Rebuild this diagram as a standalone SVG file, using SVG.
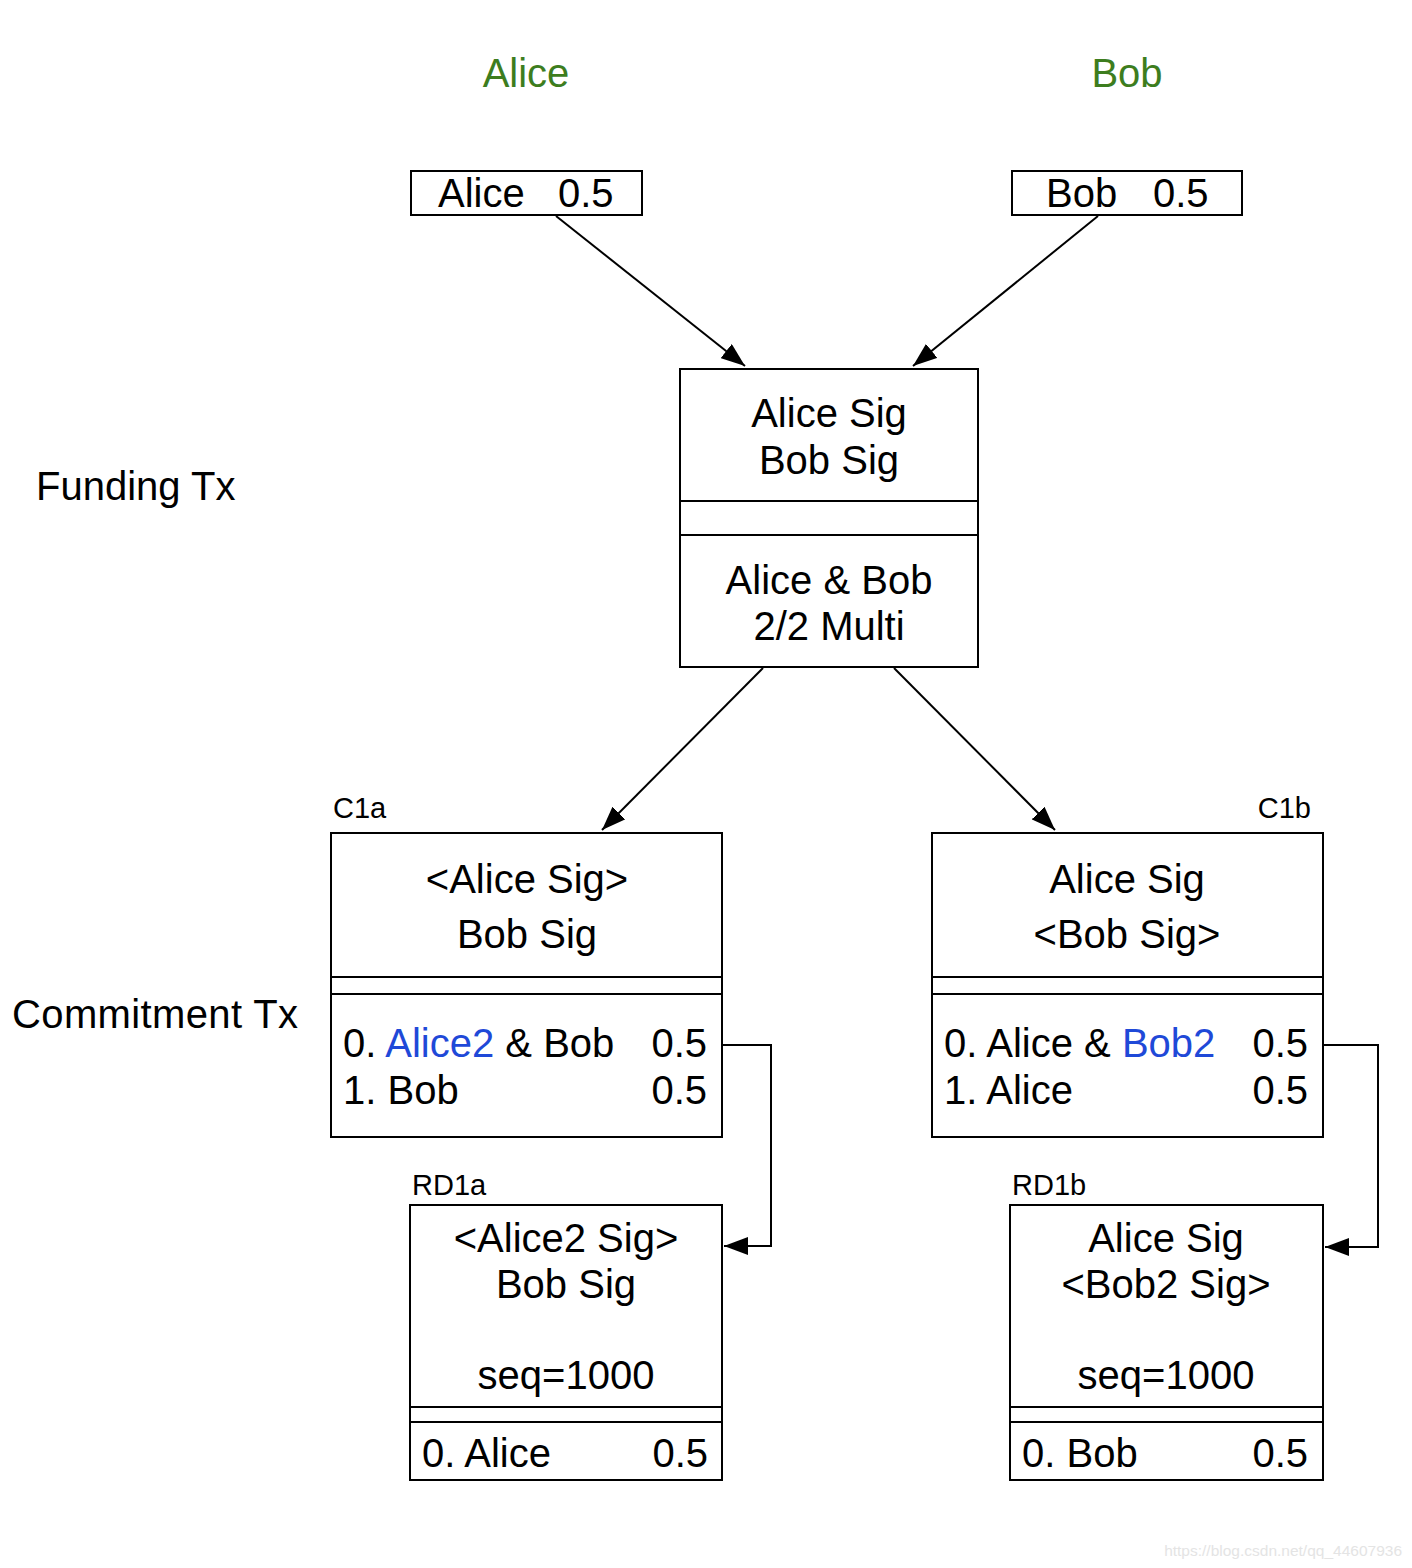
<svg xmlns="http://www.w3.org/2000/svg" width="1412" height="1568" viewBox="0 0 1412 1568">
<style>
text{font-family:"Liberation Sans",Arial,sans-serif;fill:#000}
.t{font-size:40px}
.c{text-anchor:middle}
.r{text-anchor:end}
.lbl{font-size:29px}
.hd{font-size:40px;fill:#3d7d1e;text-anchor:middle}
.bl{fill:#1f49d8}
.box{fill:#fff;stroke:#000;stroke-width:2}
.ln{stroke:#000;stroke-width:2;fill:none}
.wm{font-size:15.5px;fill:#e4e4e4;text-anchor:end}
</style>
<defs>
<marker id="ah" markerUnits="userSpaceOnUse" viewBox="0 0 24 18" refX="24" refY="9" markerWidth="24" markerHeight="18" orient="auto">
<path d="M0,0 L24,9 L0,18 Z" fill="#000"/>
</marker>
</defs>
<rect width="1412" height="1568" fill="#fff"/>
<g id="headers">
<text class="hd" x="526" y="87">Alice</text>
<text class="hd" x="1127" y="87">Bob</text>
<text class="t" x="36" y="500">Funding Tx</text>
<text class="t" x="12" y="1028" textLength="286">Commitment Tx</text>
</g>
<g id="connectors">
<line class="ln" x1="556" y1="216" x2="745" y2="366" marker-end="url(#ah)"/>
<line class="ln" x1="1098" y1="216" x2="913" y2="366" marker-end="url(#ah)"/>
<line class="ln" x1="763" y1="668" x2="602" y2="830" marker-end="url(#ah)"/>
<line class="ln" x1="894" y1="668" x2="1055" y2="830" marker-end="url(#ah)"/>
<polyline class="ln" points="723,1045 771,1045 771,1246 724,1246" marker-end="url(#ah)"/>
<polyline class="ln" points="1324,1045 1378,1045 1378,1247 1325,1247" marker-end="url(#ah)"/>
</g>
<g id="alice-input">
<rect class="box" x="411" y="171" width="231" height="44"/>
<text class="t" x="438" y="207">Alice</text>
<text class="t" x="558" y="207">0.5</text>
</g>
<g id="bob-input">
<rect class="box" x="1012" y="171" width="230" height="44"/>
<text class="t" x="1046" y="207">Bob</text>
<text class="t" x="1153" y="207">0.5</text>
</g>
<g id="funding">
<rect class="box" x="680" y="369" width="298" height="298"/>
<line class="ln" x1="680" y1="501" x2="978" y2="501"/>
<line class="ln" x1="680" y1="535" x2="978" y2="535"/>
<text class="t c" x="829" y="427">Alice Sig</text>
<text class="t c" x="829" y="474">Bob Sig</text>
<text class="t c" x="829" y="594">Alice &amp; Bob</text>
<text class="t c" x="829" y="640">2/2 Multi</text>
</g>
<g id="c1a">
<text class="lbl" x="333" y="818">C1a</text>
<rect class="box" x="331" y="833" width="391" height="304"/>
<line class="ln" x1="331" y1="977" x2="722" y2="977"/>
<line class="ln" x1="331" y1="994" x2="722" y2="994"/>
<text class="t c" x="527" y="893">&lt;Alice Sig&gt;</text>
<text class="t c" x="527" y="948">Bob Sig</text>
<text class="t" x="343" y="1057">0. <tspan class="bl">Alice2</tspan> &amp; Bob</text>
<text class="t r" x="707" y="1057">0.5</text>
<text class="t" x="343" y="1104">1. Bob</text>
<text class="t r" x="707" y="1104">0.5</text>
</g>
<g id="c1b">
<text class="lbl r" x="1311" y="818">C1b</text>
<rect class="box" x="932" y="833" width="391" height="304"/>
<line class="ln" x1="932" y1="977" x2="1323" y2="977"/>
<line class="ln" x1="932" y1="994" x2="1323" y2="994"/>
<text class="t c" x="1127" y="893">Alice Sig</text>
<text class="t c" x="1127" y="948">&lt;Bob Sig&gt;</text>
<text class="t" x="944" y="1057">0. Alice &amp; <tspan class="bl">Bob2</tspan></text>
<text class="t r" x="1308" y="1057">0.5</text>
<text class="t" x="944" y="1104">1. Alice</text>
<text class="t r" x="1308" y="1104">0.5</text>
</g>
<g id="rd1a">
<text class="lbl" x="412" y="1195">RD1a</text>
<rect class="box" x="410" y="1205" width="312" height="275"/>
<line class="ln" x1="410" y1="1407" x2="722" y2="1407"/>
<line class="ln" x1="410" y1="1422" x2="722" y2="1422"/>
<text class="t c" x="566" y="1252">&lt;Alice2 Sig&gt;</text>
<text class="t c" x="566" y="1298">Bob Sig</text>
<text class="t c" x="566" y="1389">seq=1000</text>
<text class="t" x="422" y="1467">0. Alice</text>
<text class="t r" x="708" y="1467">0.5</text>
</g>
<g id="rd1b">
<text class="lbl" x="1012" y="1195">RD1b</text>
<rect class="box" x="1010" y="1205" width="313" height="275"/>
<line class="ln" x1="1010" y1="1407" x2="1323" y2="1407"/>
<line class="ln" x1="1010" y1="1422" x2="1323" y2="1422"/>
<text class="t c" x="1166" y="1252">Alice Sig</text>
<text class="t c" x="1166" y="1298">&lt;Bob2 Sig&gt;</text>
<text class="t c" x="1166" y="1389">seq=1000</text>
<text class="t" x="1022" y="1467">0. Bob</text>
<text class="t r" x="1308" y="1467">0.5</text>
</g>
<text class="wm" x="1402" y="1556">https://blog.csdn.net/qq_44607936</text>
</svg>
